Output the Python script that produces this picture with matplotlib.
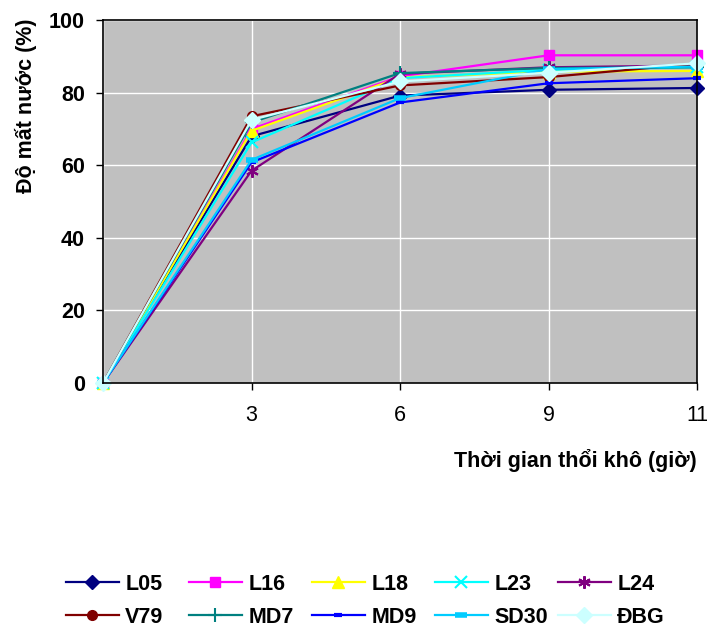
import numpy as np
import matplotlib
matplotlib.use("Agg")
import matplotlib.pyplot as plt

plt.rcParams['font.family'] = ['Liberation Sans', 'DejaVu Sans']

# thoi gian (gio) - truc danh muc
hours = ["", "3", "6", "9", "11"]

L05 = [0, 68.0, 79.2, 80.8, 81.3]
L16 = [0, 70.0, 84.5, 90.3, 90.3]
L18 = [0, 69.5, 84.2, 85.8, 86.0]
L23 = [0, 66.3, 84.0, 86.3, 87.0]
L24 = [0, 58.5, 85.2, 87.0, 87.5]
V79 = [0, 73.5, 82.0, 84.3, 88.0]
MD7 = [0, 71.8, 85.4, 86.8, 87.0]
MD9 = [0, 60.8, 77.3, 82.6, 84.0]
SD30 = [0, 61.5, 78.5, 86.5, 87.2]
DBG = [0, 72.5, 83.1, 85.5, 88.1]

names = ["L05", "L16", "L18", "L23", "L24", "V79", "MD7", "MD9", "SD30", "ĐBG"]
series = [L05, L16, L18, L23, L24, V79, MD7, MD9, SD30, DBG]
colors = ["#000080", "#FF00FF", "#FFFF00", "#00FFFF", "#800080",
          "#800000", "#008080", "#0000FF", "#00CCFF", "#CCFFFF"]
markers = ["D", "s", "^", "x", (6, 2, 0), "o", "+", "_", "_", "D"]
msizes = [7, 7, 8, 8, 9, 7, 10, 6, 9, 8]
mews = [1, 1, 1, 1.5, 1.5, 1, 1.5, 3, 4, 1]

FS = 15.5

fig = plt.figure(figsize=(7.07, 6.28), dpi=100)
ax = fig.add_axes([0.1457, 0.390, 0.8403, 0.578])
ax.set_facecolor("#C0C0C0")

x = np.arange(len(hours))
lines = []
for nm, y, c, m, ms, mw in zip(names, series, colors, markers, msizes, mews):
    ln, = ax.plot(x, y, color=c, lw=1.6, marker=m, markersize=ms,
                  markeredgewidth=mw, markerfacecolor=c, markeredgecolor=c,
                  label=nm, clip_on=False)
    lines.append(ln)

ax.set_xlim(0, 4)
ax.set_ylim(0, 100)
ax.set_xticks(x)
ax.set_xticklabels(hours, fontsize=FS)
ax.set_yticks(range(0, 101, 20))
ax.set_yticklabels([str(v) for v in range(0, 101, 20)], fontsize=FS, fontweight="bold")
ax.tick_params(axis="both", direction="out", length=5, width=1, color="black")
ax.tick_params(axis="x", pad=11)
ax.tick_params(axis="y", pad=8)
ax.grid(True, color="white", lw=1)
ax.set_axisbelow(True)
for s in ax.spines.values():
    s.set_color("black")
    s.set_linewidth(1.2)

fig.text(0.037, 0.832, "Độ mất nước (%)", fontsize=FS, fontweight="bold",
         rotation=90, ha="center", va="center")
fig.text(0.986, 0.267, "Thời gian thổi khô (giờ)", fontsize=FS,
         fontweight="bold", ha="right", va="center")

# legend: 5 cot deu nhau, 2 hang
for i in range(5):
    pair = [lines[i], lines[i + 5]]
    leg = fig.legend(handles=pair, loc="upper left",
                     bbox_to_anchor=((66 + 123 * i) / 707, 0.086),
                     ncol=1, frameon=False, handlelength=2.45, handletextpad=0.3,
                     labelspacing=0.55, borderpad=0, borderaxespad=0,
                     prop={"size": FS, "weight": "bold"})

fig.savefig("out.png", dpi=100)
